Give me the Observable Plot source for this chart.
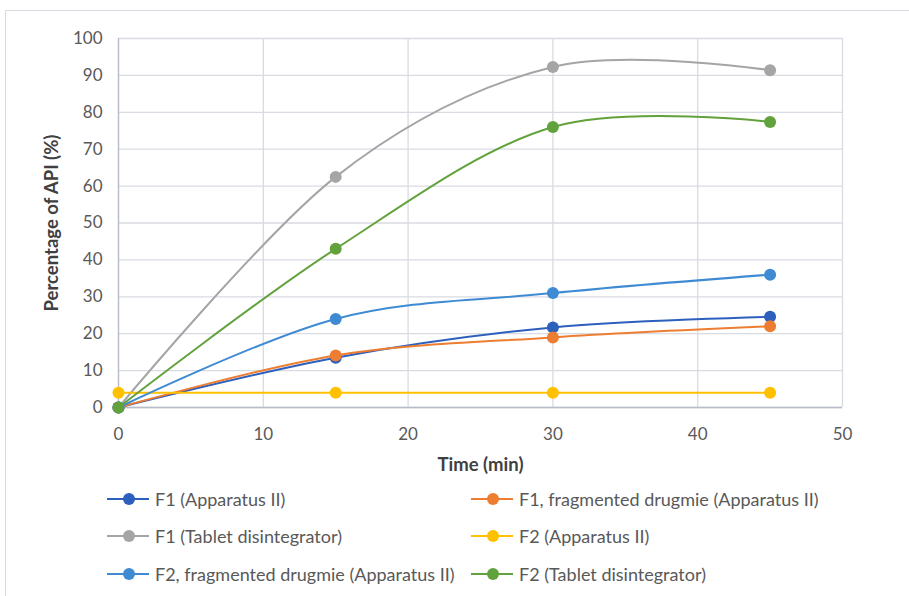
<!DOCTYPE html>
<html>
<head>
<meta charset="utf-8">
<script src="https://cdn.jsdelivr.net/npm/d3@7"></script>
<script src="https://cdn.jsdelivr.net/npm/@observablehq/plot@0.6"></script>
<style>
  body { margin: 0; background: #fff; font-family: Lato, "Open Sans", sans-serif; }
  #wrap { position: relative; width: 909px; height: 596px; overflow: hidden; }
  #frame { position: absolute; left: 5px; top: 10px; width: 940px; height: 620px; border: 1px solid #d9d9e3; box-sizing: border-box; }
  #chart { position: absolute; left: 0; top: 0; }
  #legend { position: absolute; left: 107px; top: 480px; display: grid; grid-template-columns: 364px 420px; row-gap: 0; }
  .item { height: 37.5px; display: flex; align-items: center; font-size: 18px; color: #595959; white-space: nowrap; }
  .sw { position: relative; width: 42px; height: 12px; margin-right: 6px; flex: none; }
  .sw .ln { position: absolute; left: 0; right: 0; top: 5px; height: 2px; }
  .sw .dt { position: absolute; left: 16px; top: 0px; width: 12px; height: 12px; border-radius: 50%; }
</style>
</head>
<body>
<div id="wrap">
  <div id="frame"></div>
  <div id="chart"></div>
  <div id="legend"></div>
</div>
<script>
const times = [0, 15, 30, 45];
const seriesNames = [
  "F1 (Apparatus II)",
  "F1, fragmented drugmie (Apparatus II)",
  "F1 (Tablet disintegrator)",
  "F2 (Apparatus II)",
  "F2, fragmented drugmie (Apparatus II)",
  "F2 (Tablet disintegrator)"
];
const seriesColors = ["#2d5fbd", "#ed7d31", "#a5a5a5", "#ffc000", "#3f8bd3", "#62a23c"];
const f1App = [0, 13.5, 21.7, 24.6];
const f1Frag = [0, 14.1, 19.0, 22.0];
const f1Tab = [0, 62.5, 92.3, 91.4];
const f2App = [4.0, 4.0, 4.0, 4.0];
const f2Frag = [0, 24.0, 31.0, 36.0];
const f2Tab = [0, 43.0, 76.0, 77.4];
const xTicks = [0, 10, 20, 30, 40, 50];
const yTicks = [0, 10, 20, 30, 40, 50, 60, 70, 80, 90, 100];

const allValues = [f1App, f1Frag, f1Tab, f2App, f2Frag, f2Tab];
const data = [];
allValues.forEach((vals, i) => {
  vals.forEach((v, j) => data.push({series: seriesNames[i], time: times[j], value: v}));
});

const marks = [
  Plot.gridX(xTicks, {stroke: "#d9dbe3", strokeOpacity: 1, strokeWidth: 1.3}),
  Plot.gridY(yTicks, {stroke: "#d9dbe3", strokeOpacity: 1, strokeWidth: 1.3}),
  Plot.ruleX([0], {stroke: "#b8bcc8", strokeWidth: 1.3}),
  Plot.ruleY([0], {stroke: "#b8bcc8", strokeWidth: 1.3}),
  Plot.axisX(xTicks, {tickSize: 0, tickPadding: 20, fontSize: 17, fill: "#595959",
    label: "Time (min)", labelAnchor: "center", labelArrow: "none", labelOffset: 63}),
  Plot.axisY(yTicks, {tickSize: 0, tickPadding: 16, fontSize: 17, fill: "#595959",
    label: "Percentage of API (%)", labelAnchor: "center", labelArrow: "none", labelOffset: 74})
];
seriesNames.forEach((name, i) => {
  const rows = data.filter(d => d.series === name);
  marks.push(Plot.line(rows, {x: "time", y: "value", stroke: seriesColors[i], strokeWidth: 2, curve: "cardinal", tension: 0}));
});
seriesNames.forEach((name, i) => {
  const rows = data.filter(d => d.series === name);
  marks.push(Plot.dot(rows, {x: "time", y: "value", fill: seriesColors[i], r: 6, stroke: "none"}));
});

const chart = Plot.plot({
  width: 909,
  height: 480,
  marginLeft: 118,
  marginRight: 67,
  marginTop: 38,
  marginBottom: 73,
  style: {fontFamily: "Lato, 'Open Sans', sans-serif", background: "transparent", overflow: "visible"},
  x: {domain: [0, 50]},
  y: {domain: [0, 100]},
  marks
});
document.getElementById("chart").appendChild(chart);
d3.select(chart).selectAll("[aria-label='x-axis label'] text, [aria-label='y-axis label'] text")
  .style("font-weight", "bold").style("font-size", "18.5px").attr("fill", "#404040");

const legend = document.getElementById("legend");
seriesNames.forEach((name, i) => {
  const it = document.createElement("div");
  it.className = "item";
  it.innerHTML = `<div class="sw"><div class="ln" style="background:${seriesColors[i]}"></div><div class="dt" style="background:${seriesColors[i]}"></div></div><span>${name}</span>`;
  legend.appendChild(it);
});
</script>
</body>
</html>
